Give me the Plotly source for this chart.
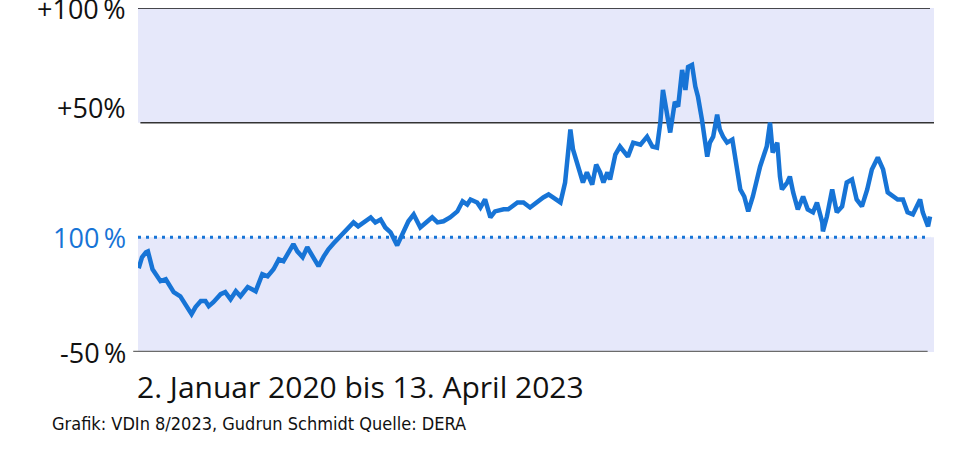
import pandas as pd
import plotly.graph_objects as go

# Kursentwicklung ab 2. Januar 2020, Veraenderung in Prozent
START = "2020-01-02"
tage = [0, 5, 11, 14, 21, 33, 41, 53, 63, 68, 74, 80, 86, 94, 101, 106, 113, 124,
        131, 139, 147, 154, 165, 177, 187, 195, 204, 212, 219, 227, 234, 240, 248,
        255, 264, 272, 280, 287, 295, 305, 316, 325, 332, 343, 351, 358, 366, 373,
        381, 391, 400, 408, 416, 426, 437, 444, 452, 461, 471, 482, 490, 497, 502,
        512, 517, 524, 532, 539, 552, 559, 573, 582, 592, 603, 612, 620, 627, 638,
        645, 653, 657, 665, 672, 678, 686, 692, 698, 703, 709, 713, 721, 728, 736,
        740, 748, 759, 769, 777, 784, 789, 793, 799, 804, 811, 816, 822, 827, 831,
        837, 842, 846, 852, 857, 860, 864, 869, 875, 879, 884, 890, 898, 902, 910,
        916, 922, 929, 940, 950, 955, 959, 966, 970, 973, 981, 985, 990, 997, 1005,
        1012, 1020, 1026, 1034, 1035, 1041, 1049, 1056, 1064, 1071, 1079, 1086,
        1094, 1102, 1109, 1118, 1126, 1133, 1141, 1148, 1156, 1163, 1171, 1182,
        1186, 1194, 1197]
veraenderung = [-13.5, -8.7, -6.5, -6.1, -13.9, -19.1, -18.3, -23.9, -25.7, -27.8,
                -30.4, -33.5, -30.4, -27.8, -27.8, -30.0, -28.3, -24.8, -23.9, -27.0,
                -23.5, -25.7, -21.7, -23.5, -16.1, -17.0, -13.9, -9.6, -10.4, -6.5,
                -3.0, -6.1, -8.7, -4.3, -8.7, -12.6, -8.3, -5.2, -2.6, 0.4, 4.3, 6.5,
                4.8, 7.0, 8.7, 6.5, 7.8, 4.3, 2.2, -3.5, 2.6, 7.0, 10.0, 4.3, 7.0,
                8.7, 6.5, 7.0, 8.7, 11.3, 15.7, 14.3, 16.5, 15.2, 13.0, 16.5, 8.7,
                11.3, 12.2, 12.2, 15.2, 15.2, 13.0, 15.7, 17.4, 18.7, 17.4, 15.2,
                23.9, 47.0, 38.3, 30.9, 23.9, 28.3, 23.0, 31.7, 28.3, 23.9, 28.3,
                25.2, 36.1, 39.6, 37.0, 35.2, 41.3, 40.4, 43.9, 39.6, 39.1, 50.0,
                64.3, 52.6, 45.7, 59.1, 57.0, 73.0, 64.3, 74.3, 75.2, 65.7, 61.3,
                51.3, 41.3, 35.2, 41.3, 43.9, 53.5, 47.0, 43.9, 41.3, 42.6, 35.2,
                20.9, 17.8, 11.3, 17.8, 30.9, 39.6, 50.0, 37.0, 41.3, 26.5, 20.9,
                23.9, 26.5, 19.6, 12.2, 17.8, 12.2, 10.9, 15.2, 6.5, 2.6, 9.1, 20.9,
                10.9, 13.5, 23.9, 25.2, 16.5, 13.5, 20.9, 29.6, 34.8, 29.6, 19.6,
                17.8, 16.5, 16.5, 10.9, 10.0, 16.5, 10.9, 4.8, 9.1]

tick_werte = [100, 50, 0, -50]
tick_texte = ["+100\u2009%", "+50%", "100\u2009%", "-50\u2009%"]

BLAU = "#1774d6"
LAVENDEL = "#e6e8fa"
FONT = "Open Sans"

datum = pd.Timestamp(START) + pd.to_timedelta(tage, unit="D")

fig = go.Figure()
fig.add_trace(go.Scatter(x=datum, y=veraenderung, mode="lines",
                         line=dict(color=BLAU, width=4.5), showlegend=False,
                         hoverinfo="skip"))

# Hintergrundbaender und Linien
shapes = [
    dict(type="rect", xref="paper", yref="y", x0=0, x1=1, y0=50, y1=100,
         fillcolor=LAVENDEL, line_width=0, layer="below"),
    dict(type="rect", xref="paper", yref="y", x0=0, x1=1, y0=-50, y1=0,
         fillcolor=LAVENDEL, line_width=0, layer="below"),
    dict(type="line", xref="paper", yref="y", x0=0, x1=0.995, y0=100, y1=100,
         line=dict(color="#111111", width=1.5), layer="below"),
    dict(type="line", xref="paper", yref="y", x0=0.003, x1=1, y0=50, y1=50,
         line=dict(color="#333333", width=1.5), layer="below"),
    dict(type="line", xref="paper", yref="y", x0=-0.006, x1=0.992, y0=-50, y1=-50,
         line=dict(color="#6b6b6b", width=2.5), layer="below"),
    dict(type="line", xref="paper", yref="y", x0=0, x1=0.995, y0=0, y1=0,
         line=dict(color=BLAU, width=3, dash="3px,5px"), layer="below"),
]

annotations = []
for wert, text in zip(tick_werte, tick_texte):
    annotations.append(dict(
        xref="paper", yref="y", x=0, y=wert, text=text, showarrow=False,
        xanchor="right", yanchor="middle", xshift=-10,
        yshift=15 if wert == 50 else 0,
        font=dict(family=FONT, size=27, color=BLAU if wert == 0 else "#111111")))

annotations.append(dict(
    xref="paper", yref="paper", x=0, y=-0.035, text="2. Januar 2020 bis 13. April 2023",
    showarrow=False, xanchor="left", yanchor="top", xshift=-3,
    font=dict(family=FONT, size=30, color="#111111")))
annotations.append(dict(
    xref="paper", yref="paper", x=0, y=-0.172,
    text="Grafik: VDIn 8/2023, Gudrun Schmidt Quelle: DERA",
    showarrow=False, xanchor="left", yanchor="top", xshift=-88,
    font=dict(family="Liberation Sans Narrow, DejaVu Sans Condensed", size=18,
              color="#111111")))

fig.update_layout(
    width=980, height=469,
    margin=dict(l=138, r=46, t=8, b=117),
    plot_bgcolor="white", paper_bgcolor="white",
    shapes=shapes, annotations=annotations,
    showlegend=False,
)
fig.update_xaxes(range=["2020-01-01", "2023-04-19"], showgrid=False, zeroline=False,
                 showticklabels=False, showline=False, ticks="")
fig.update_yaxes(range=[-50, 100], showgrid=False, zeroline=False,
                 showticklabels=False, showline=False, ticks="")

fig.write_html("out.html", config={"displayModeBar": False},
               post_script="document.body.style.margin = '0';")
